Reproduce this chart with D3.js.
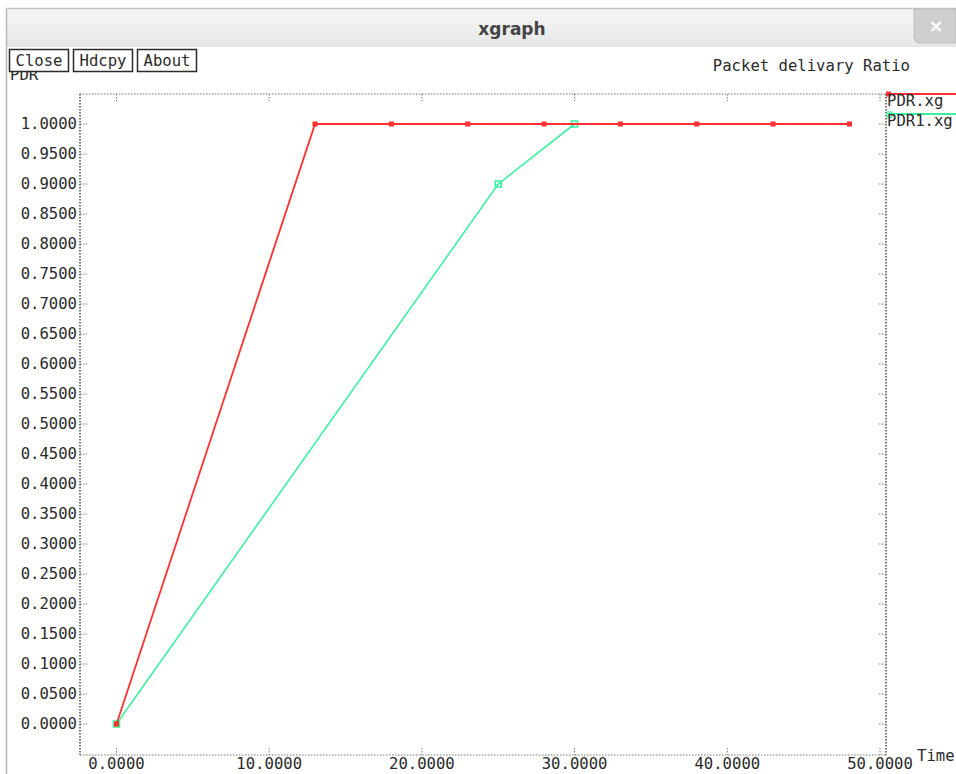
<!DOCTYPE html>
<html>
<head>
<meta charset="utf-8">
<script src="https://cdn.jsdelivr.net/npm/d3@7"></script>
<style>
  body { margin: 0; background: #fff; }
  svg { display: block; }
</style>
</head>
<body>
<div id="chart"></div>
<script>
// series
const pdrTime = [0, 13, 18, 23, 28, 33, 38, 43, 48];
const pdrValue = [0, 1, 1, 1, 1, 1, 1, 1, 1];
const pdr1Time = [0, 25, 30];
const pdr1Value = [0, 0.9, 1];

const seriesNames = ["PDR.xg", "PDR1.xg"];
const xTicks = [0, 10, 20, 30, 40, 50];
const yTicks = d3.range(0, 21).map(i => i / 20);
const buttons = ["Close", "Hdcpy", "About"];

(function () {
    const width = 956, height = 774;
    const mono = "'DejaVu Sans Mono', 'Liberation Mono', monospace";
    const fs = 15.6;
    const ink = "#2a2a2a";
    const red = "#ff3030", green = "#3ff0a0";

    const svg = d3.select("#chart").append("svg")
        .attr("width", width).attr("height", height);

    // window chrome
    const grad = svg.append("defs").append("linearGradient")
        .attr("id", "titleGrad").attr("x1", 0).attr("x2", 0).attr("y1", 0).attr("y2", 1);
    grad.append("stop").attr("offset", "0%").attr("stop-color", "#f6f6f6");
    grad.append("stop").attr("offset", "100%").attr("stop-color", "#e7e7e7");

    svg.append("rect").attr("x", 6).attr("y", 9).attr("width", width - 6).attr("height", 38)
        .attr("fill", "url(#titleGrad)");
    svg.append("line").attr("x1", 6).attr("x2", width).attr("y1", 8.5).attr("y2", 8.5)
        .attr("stroke", "#c4c4c4").attr("stroke-width", 1.5);
    svg.append("line").attr("x1", 6.5).attr("x2", 6.5).attr("y1", 9).attr("y2", height)
        .attr("stroke", "#b8b8b8").attr("stroke-width", 1.5);
    svg.append("text").attr("x", 512).attr("y", 35)
        .attr("text-anchor", "middle")
        .attr("font-family", "'DejaVu Sans', sans-serif").attr("font-weight", "bold")
        .attr("font-size", 17).attr("fill", "#444")
        .text("xgraph");
    svg.append("path")
        .attr("d", `M914,9 H${width} V43 H920 Q914,43 914,37 Z`)
        .attr("fill", "#cfcfcf").attr("stroke", "#bdbdbd");
    svg.append("text").attr("x", 936).attr("y", 32)
        .attr("text-anchor", "middle")
        .attr("font-family", "'DejaVu Sans', sans-serif").attr("font-weight", "bold")
        .attr("font-size", 18).attr("fill", "#fff")
        .text("×");

    // y axis label, partly hidden by the buttons as in xgraph
    svg.append("text").attr("x", 10).attr("y", 80)
        .attr("font-family", mono).attr("font-size", fs).attr("fill", ink)
        .text("PDR");

    // buttons
    let bx = 9;
    buttons.forEach(b => {
        const w = 59;
        svg.append("rect").attr("x", bx + 0.5).attr("y", 49.5).attr("width", w).attr("height", 22)
            .attr("fill", "#fff").attr("stroke", ink).attr("stroke-width", 1.5);
        svg.append("text").attr("x", bx + 0.5 + w / 2).attr("y", 66)
            .attr("text-anchor", "middle")
            .attr("font-family", mono).attr("font-size", fs).attr("fill", ink)
            .text(b);
        bx += w + 5;
    });

    svg.append("text").attr("x", 910).attr("y", 71)
        .attr("text-anchor", "end")
        .attr("font-family", mono).attr("font-size", fs).attr("fill", ink)
        .text("Packet delivary Ratio");

    // plot area
    const left = 80, right = 886, top = 94, bottom = 755;
    const x = d3.scaleLinear().domain([0, 50]).range([116.5, 880]);
    const y = d3.scaleLinear().domain([0, 1]).range([724, 124]);

    const frame = svg.append("g").attr("stroke", "#777").attr("stroke-dasharray", "1.5,1.5").attr("fill", "none");
    frame.append("line").attr("x1", left).attr("x2", right).attr("y1", top).attr("y2", top);
    frame.append("line").attr("x1", left).attr("x2", right).attr("y1", bottom).attr("y2", bottom);
    frame.append("line").attr("x1", left).attr("x2", left).attr("y1", top).attr("y2", bottom).attr("stroke-width", 2);
    frame.append("line").attr("x1", right).attr("x2", right).attr("y1", top).attr("y2", bottom).attr("stroke-width", 2);

    // tick marks
    yTicks.forEach(v => {
        frame.append("line").attr("x1", left).attr("x2", left + 7).attr("y1", y(v)).attr("y2", y(v));
        frame.append("line").attr("x1", right - 7).attr("x2", right).attr("y1", y(v)).attr("y2", y(v));
    });
    xTicks.forEach(v => {
        frame.append("line").attr("x1", x(v)).attr("x2", x(v)).attr("y1", top).attr("y2", top + 7);
        frame.append("line").attr("x1", x(v)).attr("x2", x(v)).attr("y1", bottom - 7).attr("y2", bottom);
    });

    // tick labels
    svg.append("g")
        .attr("font-family", mono).attr("font-size", fs).attr("fill", ink)
        .attr("text-anchor", "end")
        .selectAll("text").data(yTicks).join("text")
        .attr("x", 77).attr("y", d => y(d) + 5)
        .text(d => d3.format(".4f")(d));

    svg.append("g")
        .attr("font-family", mono).attr("font-size", fs).attr("fill", ink)
        .attr("text-anchor", "middle")
        .selectAll("text").data(xTicks).join("text")
        .attr("x", d => x(d)).attr("y", 769)
        .text(d => d3.format(".4f")(d));

    svg.append("text").attr("x", 917).attr("y", 761)
        .attr("font-family", mono).attr("font-size", fs).attr("fill", ink)
        .text("Time");

    // series
    const line = d3.line().x(d => x(d[0])).y(d => y(d[1]));
    const pdr = pdrTime.map((t, i) => [t, pdrValue[i]]);
    const pdr1 = pdr1Time.map((t, i) => [t, pdr1Value[i]]);

    svg.append("path").datum(pdr1).attr("d", line)
        .attr("fill", "none").attr("stroke", green).attr("stroke-width", 1.6);
    svg.append("g").selectAll("rect").data(pdr1).join("rect")
        .attr("x", d => x(d[0]) - 3).attr("y", d => y(d[1]) - 3)
        .attr("width", 6).attr("height", 6)
        .attr("fill", "none").attr("stroke", green).attr("stroke-width", 1.6);

    svg.append("path").datum(pdr).attr("d", line)
        .attr("fill", "none").attr("stroke", red).attr("stroke-width", 1.8);
    svg.append("g").selectAll("rect").data(pdr).join("rect")
        .attr("x", d => x(d[0]) - 2.5).attr("y", d => y(d[1]) - 2.5)
        .attr("width", 5).attr("height", 5)
        .attr("fill", red);

    // legend
    const legY = [94, 114];
    const colors = [red, green];
    seriesNames.forEach((name, i) => {
        svg.append("line").attr("x1", right + 2).attr("x2", width).attr("y1", legY[i]).attr("y2", legY[i])
            .attr("stroke", colors[i]).attr("stroke-width", 1.8);
        if (i === 0) {
            svg.append("rect").attr("x", right).attr("y", legY[i] - 2.5).attr("width", 5).attr("height", 5).attr("fill", red);
        } else {
            svg.append("rect").attr("x", right + 1).attr("y", legY[i] - 2).attr("width", 5).attr("height", 5)
                .attr("fill", "none").attr("stroke", green).attr("stroke-width", 1.2);
        }
        svg.append("text").attr("x", right + 1).attr("y", legY[i] + 12)
            .attr("font-family", mono).attr("font-size", fs).attr("fill", ink)
            .text(name);
    });
})();
</script>
</body>
</html>
